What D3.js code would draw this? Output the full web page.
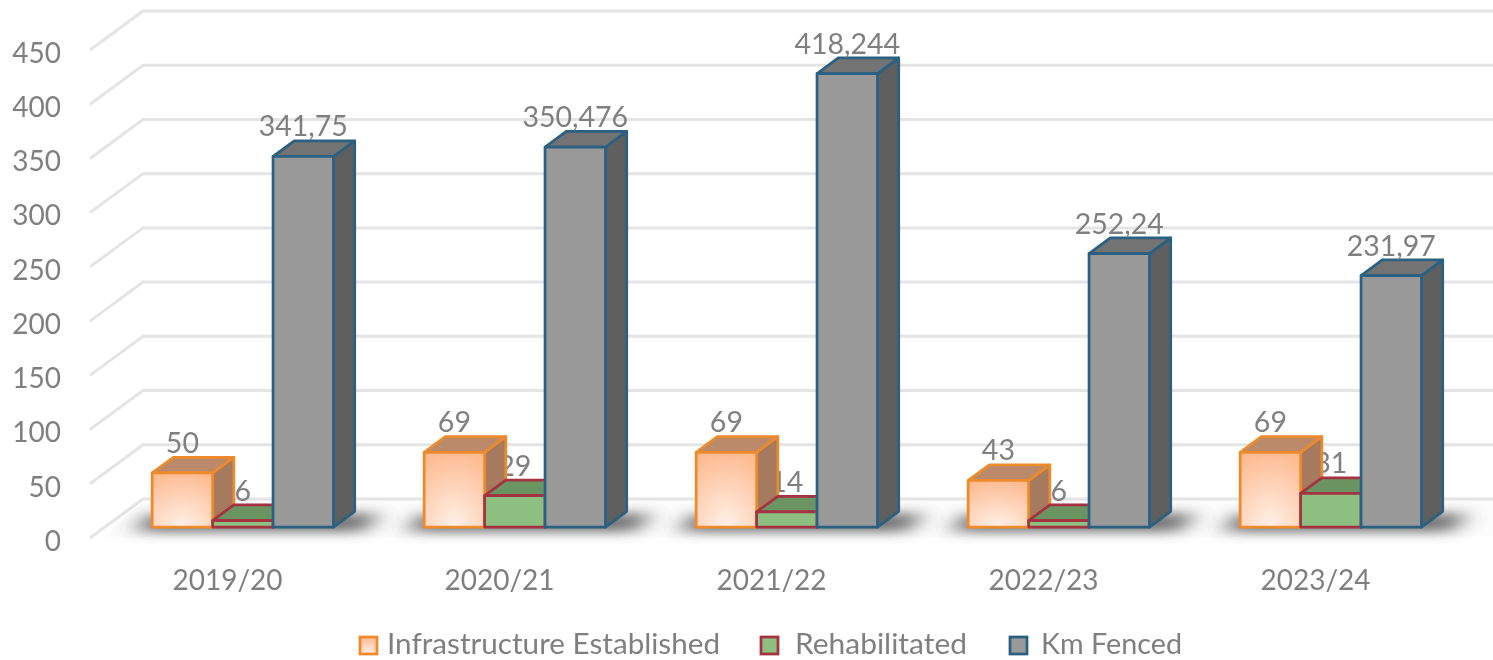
<!DOCTYPE html>
<html lang="en">
<head>
    <meta charset="UTF-8">
    <title>Fencing chart</title>
    <style>
        body { margin: 0; background: #fff; }
        text { font-family: Lato, "Open Sans", sans-serif; fill: #7f7f7f; }
    </style>
</head>
<body>
    <div id="chart"></div>
    <script src="https://d3js.org/d3.v7.min.js"></script>
    <script>
        var categories = ["2019/20", "2020/21", "2021/22", "2022/23", "2023/24"];
        var infrastructure = [50, 69, 69, 43, 69];
        var rehabilitated = [6, 29, 14, 6, 31];
        var kmFenced = [341.75, 350.476, 418.244, 252.24, 231.97];
        var yTicks = [0, 50, 100, 150, 200, 250, 300, 350, 400, 450];
        var seriesNames = ["Infrastructure Established", "Rehabilitated", "Km Fenced"];

        var width = 1493, height = 660;

        // depth of the floor, and where the bars stand on it
        var floorDx = 53, floorDy = -39;
        var barShift = 0.28, barDepth = 0.4;

        var x0 = d3.scaleBand().domain(categories).range([92, 1452]).paddingInner(1 / 3).paddingOuter(1 / 6);
        var x1 = d3.scaleBand().domain(seriesNames).range([0, x0.bandwidth()]);
        var y = d3.scaleLinear().domain([0, 450]).range([538, 50]);

        var styles = {
            "Infrastructure Established": { face: "url(#orangeFace)", top: "#bb8a6b", side: "#a67a5f", line: "#ee8a2c" },
            "Rehabilitated": { face: "#8cbf80", top: "#6b9563", side: "#5f8558", line: "#a5323f" },
            "Km Fenced": { face: "#999999", top: "#737373", side: "#5f5f5f", line: "#2a6082" }
        };

        var svg = d3.select("#chart").append("svg")
            .attr("width", width)
            .attr("height", height)
            .style("display", "block");

        var defs = svg.append("defs");
        var grad = defs.append("radialGradient")
            .attr("id", "orangeFace")
            .attr("cx", "50%").attr("cy", "100%").attr("r", "105%");
        grad.append("stop").attr("offset", "0%").attr("stop-color", "#fff1e9");
        grad.append("stop").attr("offset", "100%").attr("stop-color", "#fdb98e");
        defs.append("filter").attr("id", "blur")
            .attr("x", "-30%").attr("y", "-150%").attr("width", "160%").attr("height", "400%")
            .append("feGaussianBlur").attr("stdDeviation", "12 6");
        // the reference is a soft, upscaled image
        defs.append("filter").attr("id", "soft")
            .attr("filterUnits", "userSpaceOnUse")
            .attr("x", 0).attr("y", 0).attr("width", width).attr("height", height)
            .append("feGaussianBlur").attr("stdDeviation", 0.6);

        var root = svg.append("g").attr("filter", "url(#soft)");

        // gridlines: side wall and back wall
        var grid = root.append("g")
            .attr("fill", "none")
            .attr("stroke", "#e4e4e4")
            .attr("stroke-width", 3);
        grid.selectAll("path")
            .data(yTicks)
            .enter()
            .append("path")
            .attr("d", function(d) {
                var yy = y(d);
                return "M90," + yy + "L" + (90 + floorDx) + "," + (yy + floorDy) + "H" + width;
            });

        // pale floor
        root.append("path")
            .attr("fill", "#fcfcfc")
            .attr("d", "M" + (90 + 14) + "," + (y(0) - 1) + "L" + (90 + floorDx) + "," + (y(0) + floorDy + 2) +
                "H" + width + "V" + (y(0) - 1) + "Z");

        // shadow on the floor under each group
        root.append("g").selectAll("path")
            .data(categories)
            .enter()
            .append("path")
            .attr("filter", "url(#blur)")
            .attr("fill", "#5a5a5a")
            .attr("opacity", 0.85)
            .attr("d", function(d) {
                var left = x0(d) + barShift * floorDx - 18;
                var right = x0(d) + barShift * floorDx + x0.bandwidth() + 30;
                var b = y(0) - 6, t = y(0) + floorDy + 14;
                return "M" + left + "," + b + "L" + (left + 16) + "," + t +
                    "H" + (right + 16) + "L" + right + "," + b + "Z";
            });

        // y axis
        var yAxis = root.append("g")
            .attr("transform", "translate(70,0)")
            .call(d3.axisLeft(y).tickValues(yTicks).tickSize(0).tickPadding(9));
        yAxis.select(".domain").remove();
        yAxis.selectAll("text")
            .style("font-size", "28px")
            .attr("dy", "0.44em");

        // x axis labels
        root.append("g").selectAll("text")
            .data(categories)
            .enter()
            .append("text")
            .attr("x", function(d) { return x0(d) + x0.bandwidth() / 2 - 0.5; })
            .attr("y", 590)
            .attr("text-anchor", "middle")
            .style("font-size", "28px")
            .text(function(d) { return d; });

        var rows = [];
        categories.forEach(function(c, i) {
            rows.push({ cat: c, name: seriesNames[1], value: rehabilitated[i] });
            rows.push({ cat: c, name: seriesNames[0], value: infrastructure[i] });
            rows.push({ cat: c, name: seriesNames[2], value: kmFenced[i] });
        });

        function barLeft(d) { return x0(d.cat) + x1(d.name) + barShift * floorDx; }
        function barBase() { return y(0) + barShift * floorDy; }
        function barTop(d) { return y(d.value) + barShift * floorDy; }

        function addLabels(sel) {
            sel.append("text")
                .attr("x", function(d) { return barLeft(d) + x1.bandwidth() / 2; })
                .attr("y", function(d) { return barTop(d) - 20; })
                .attr("text-anchor", "middle")
                .style("font-size", "28.5px")
                .text(function(d) { return String(d.value).replace(".", ","); });
        }

        // the orange side face hides part of the green label, so those go in first
        addLabels(root.append("g").selectAll("g")
            .data(rows.filter(function(d) { return d.name === seriesNames[1]; }))
            .enter());

        var depthX = barDepth * floorDx, depthY = barDepth * floorDy;
        var bars = root.append("g").selectAll("g")
            .data(rows.slice().sort(function(a, b) {
                return seriesNames.indexOf(a.name) - seriesNames.indexOf(b.name);
            }))
            .enter()
            .append("g")
            .attr("stroke-width", 2.75)
            .attr("stroke-linejoin", "round")
            .attr("stroke", function(d) { return styles[d.name].line; });

        bars.append("path") // side
            .attr("fill", function(d) { return styles[d.name].side; })
            .attr("d", function(d) {
                var r = barLeft(d) + x1.bandwidth();
                return "M" + r + "," + barTop(d) + "l" + depthX + "," + depthY + "V" + (barBase() + depthY) +
                    "l" + (-depthX) + "," + (-depthY) + "Z";
            });
        bars.append("path") // top
            .attr("fill", function(d) { return styles[d.name].top; })
            .attr("d", function(d) {
                var l = barLeft(d), w = x1.bandwidth();
                return "M" + l + "," + barTop(d) + "l" + depthX + "," + depthY + "h" + w +
                    "l" + (-depthX) + "," + (-depthY) + "Z";
            });
        bars.append("rect") // front
            .attr("fill", function(d) { return styles[d.name].face; })
            .attr("x", barLeft)
            .attr("y", barTop)
            .attr("width", x1.bandwidth())
            .attr("height", function(d) { return barBase() - barTop(d); });

        addLabels(root.append("g").selectAll("g")
            .data(rows.filter(function(d) { return d.name !== seriesNames[1]; }))
            .enter());

        // legend
        var legendX = [360, 761, 1010];
        var legendText = [387, 795, 1041];
        var legendWidth = [333, 172, 141];
        var legend = root.append("g").selectAll("g")
            .data(seriesNames)
            .enter()
            .append("g")
            .attr("transform", function(d, i) { return "translate(" + legendX[i] + ",637)"; });
        legend.append("rect")
            .attr("width", 17)
            .attr("height", 17)
            .attr("stroke-width", 2.75)
            .attr("stroke", function(d) { return styles[d].line; })
            .attr("fill", function(d) { return styles[d].face; });
        legend.append("text")
            .attr("x", function(d, i) { return legendText[i] - legendX[i]; })
            .attr("y", 17)
            .attr("textLength", function(d, i) { return legendWidth[i]; })
            .attr("lengthAdjust", "spacingAndGlyphs")
            .style("font-size", "28px")
            .text(function(d) { return d; });
    </script>
</body>
</html>
